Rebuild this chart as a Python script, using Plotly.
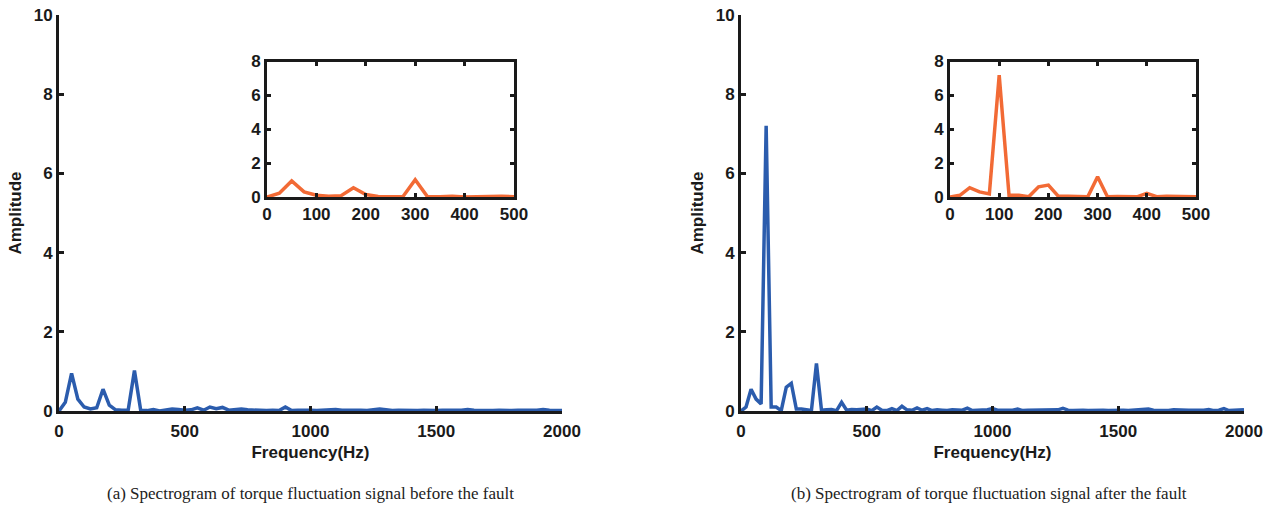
import plotly.graph_objects as go

# ---------------- data ----------------
freq_before = list(range(0, 2001, 25))   # 25 Hz bins
amp_before = [
    0.00, 0.22, 0.95, 0.30, 0.10, 0.05, 0.08, 0.55, 0.15, 0.03,
    0.02, 0.02, 1.02, 0.01, 0.01, 0.04, 0.00, 0.03, 0.05, 0.04,
    0.02, 0.03, 0.08, 0.02, 0.10, 0.06, 0.09, 0.02, 0.04, 0.05,
    0.03, 0.02, 0.03, 0.01, 0.02, 0.01, 0.10, 0.01, 0.02, 0.03,
    0.02, 0.01, 0.02, 0.01, 0.04, 0.02, 0.01, 0.02, 0.02, 0.01,
    0.03, 0.05, 0.03, 0.01, 0.02, 0.01, 0.02, 0.01, 0.02, 0.01,
    0.01, 0.02, 0.01, 0.02, 0.02, 0.04, 0.02, 0.01, 0.02, 0.01,
    0.02, 0.01, 0.01, 0.02, 0.01, 0.02, 0.02, 0.04, 0.02, 0.01,
    0.01,
]
freq_after = list(range(0, 2001, 20))    # 20 Hz bins
amp_after = [
    0.00, 0.10, 0.55, 0.30, 0.18, 7.20, 0.10, 0.10, 0.01, 0.60,
    0.70, 0.05, 0.05, 0.03, 0.01, 1.20, 0.02, 0.03, 0.04, 0.01,
    0.22, 0.02, 0.04, 0.03, 0.04, 0.05, 0.01, 0.10, 0.02, 0.01,
    0.06, 0.01, 0.12, 0.03, 0.02, 0.08, 0.02, 0.06, 0.01, 0.03,
    0.02, 0.01, 0.03, 0.02, 0.02, 0.07, 0.01, 0.02, 0.02, 0.03,
    0.06, 0.02, 0.02, 0.01, 0.02, 0.05, 0.01, 0.02, 0.02, 0.01,
    0.02, 0.02, 0.01, 0.03, 0.07, 0.02, 0.01, 0.02, 0.02, 0.01,
    0.02, 0.01, 0.02, 0.01, 0.02, 0.01, 0.02, 0.01, 0.02, 0.01,
    0.02, 0.05, 0.02, 0.01, 0.02, 0.01, 0.03, 0.02, 0.01, 0.02,
    0.02, 0.01, 0.02, 0.04, 0.01, 0.02, 0.06, 0.01, 0.02, 0.02,
    0.03,
]
assert len(freq_before) == len(amp_before)
assert len(freq_after) == len(amp_after)

main_xticks = [0, 500, 1000, 1500, 2000]
main_yticks = [0, 2, 4, 6, 8, 10]
inset_xticks = [0, 100, 200, 300, 400, 500]
inset_yticks = [0, 2, 4, 6, 8]
captions = [
    "(a) Spectrogram of torque fluctuation signal before the fault",
    "(b) Spectrogram of torque fluctuation signal after the fault",
]

BLUE = "#2B5CAD"
ORANGE = "#F26A35"
INK = "#1a1a1a"
W, H = 1274, 508
TICKFONT = dict(family="Liberation Sans, Arial", size=17, color=INK, weight="bold")


def px(x):
    return x / W


def py(y):
    return (H - y) / H


fig = go.Figure()

fig.add_trace(go.Scatter(x=freq_before, y=amp_before, mode="lines",
                         line=dict(color=BLUE, width=3.5), xaxis="x", yaxis="y"))
fig.add_trace(go.Scatter(x=freq_after, y=amp_after, mode="lines",
                         line=dict(color=BLUE, width=3.5), xaxis="x2", yaxis="y2"))
fig.add_trace(go.Scatter(x=freq_before, y=amp_before, mode="lines",
                         line=dict(color=ORANGE, width=3.5), xaxis="x3", yaxis="y3"))
fig.add_trace(go.Scatter(x=freq_after, y=amp_after, mode="lines",
                         line=dict(color=ORANGE, width=3.5), xaxis="x4", yaxis="y4"))

main_ydom = [py(411), py(15)]
inset_ydom = [py(197), py(61.5)]

COMMON = dict(showgrid=False, zeroline=False, automargin=False, tickfont=TICKFONT,
              showline=True, linewidth=3, linecolor=INK,
              ticks="inside", tickwidth=2.5, tickcolor=INK)


def main_x(dom, anchor):
    return dict(domain=dom, anchor=anchor, range=[0, 2000], tickvals=main_xticks,
                ticklen=5, ticklabelstandoff=3,
                title=dict(text="Frequency(Hz)", font=TICKFONT, standoff=6),
                **COMMON)


def main_y(anchor):
    return dict(domain=main_ydom, anchor=anchor, range=[0, 10], tickvals=main_yticks,
                ticklen=5, title=dict(text="Amplitude", font=TICKFONT, standoff=8),
                **COMMON)


def inset_x(dom, anchor):
    return dict(domain=dom, anchor=anchor, range=[0, 500], tickvals=inset_xticks,
                ticklen=4, mirror="allticks", **COMMON)


def inset_y(anchor):
    return dict(domain=inset_ydom, anchor=anchor, range=[0, 8], tickvals=inset_yticks,
                ticklen=4, mirror="allticks", **COMMON)


fig.update_layout(
    width=W, height=H,
    margin=dict(l=0, r=0, t=0, b=0, autoexpand=False),
    paper_bgcolor="white", plot_bgcolor="rgba(0,0,0,0)",
    showlegend=False,
    xaxis=main_x([px(59), px(562)], "y"),
    yaxis=main_y("x"),
    xaxis2=main_x([px(741), px(1244)], "y2"),
    yaxis2=main_y("x2"),
    xaxis3=inset_x([px(267), px(514)], "y3"),
    yaxis3=inset_y("x3"),
    xaxis4=inset_x([px(950), px(1196)], "y4"),
    yaxis4=inset_y("x4"),
)

for x0, x1 in [(267, 514), (950, 1196)]:
    fig.add_shape(type="rect", xref="paper", yref="paper",
                  x0=px(x0), x1=px(x1), y0=inset_ydom[0], y1=inset_ydom[1],
                  fillcolor="white", line=dict(width=0), layer="below")

for cx, text in zip([310, 989], captions):
    fig.add_annotation(text=text, xref="paper", yref="paper", x=px(cx), y=py(493),
                       showarrow=False, xanchor="center", yanchor="middle",
                       font=dict(family="Liberation Serif, Times New Roman", size=17,
                                 color="#222222"))

fig.write_html("out.html")
